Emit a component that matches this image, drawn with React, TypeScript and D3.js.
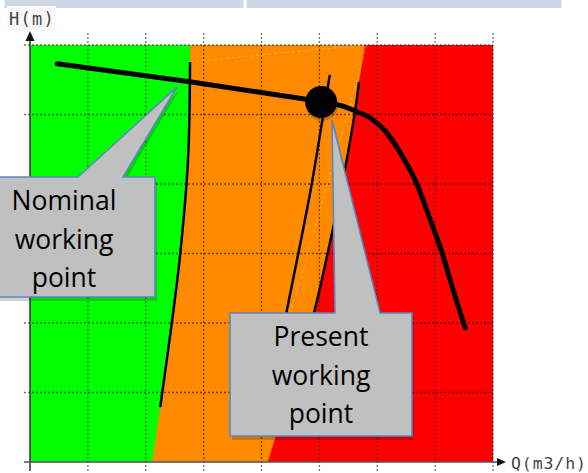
import React from "react";
import * as d3 from "d3";

// Grid: 8 flow intervals, 6 head intervals (no numeric tick labels in reference)
const Q_TICKS = [0, 1, 2, 3, 4, 5, 6, 7, 8];
const H_TICKS = [0, 1, 2, 3, 4, 5, 6];

// Pump curve (thick black)
const Q_PUMP = [0.47, 2.76, 3.97, 5.03, 5.36, 5.65, 5.88, 6.13, 6.39, 6.69, 6.91, 7.12, 7.31, 7.52];
const H_PUMP = [5.73, 5.47, 5.32, 5.18, 5.13, 5.04, 4.95, 4.77, 4.46, 3.99, 3.5, 3.01, 2.48, 1.93];

// Green / orange zone boundary
const Q_GREEN_EDGE = [2.765, 2.765, 2.73, 2.59, 2.45, 2.25, 2.11];
const H_GREEN_EDGE = [6.0, 5.755, 4.345, 2.95, 2.0, 0.79, 0.0];

// Orange / red zone boundary
const Q_RED_EDGE = [5.79, 5.685, 5.62, 5.44, 5.22, 4.92, 4.11];
const H_RED_EDGE = [6.0, 5.47, 5.07, 4.2, 3.3, 2.19, 0.0];

// System curves (thin black)
const Q_SYS1 = [2.765, 2.73, 2.59, 2.45, 2.25];
const H_SYS1 = [5.755, 4.345, 2.95, 2.0, 0.79];
const Q_SYS2 = [5.18, 5.06, 4.84, 4.44, 4.3];
const H_SYS2 = [5.57, 4.96, 3.87, 2.19, 1.6];
const Q_SYS3 = [5.685, 5.62, 5.44, 5.22, 4.92, 4.75];
const H_SYS3 = [5.47, 5.07, 4.2, 3.3, 2.19, 1.7];

// Present working point
const WORK_Q = 5.03;
const WORK_H = 5.18;

// Callouts (data coordinates): box [q0,q1,h0,h1], pointer base [qa,qb], tip [q,h]
const CALLOUT_NOMINAL = { box: [-0.6, 2.16, 2.374, 4.101], base: [0.829, 1.607], tip: [2.54, 5.396], lines: ["Nominal", "working", "point"] };
const CALLOUT_PRESENT = { box: [3.456, 6.6, 0.374, 2.144], base: [5.27, 6.048], tip: [5.218, 4.921], lines: ["Present", "working", "point"] };

const X_LABEL = "Q(m3/h)";
const Y_LABEL = "H(m)";

const W = 588;
const H = 473;

export default function App() {
  const x = d3.scaleLinear().domain([0, 8]).range([30, 493]);
  const y = d3.scaleLinear().domain([0, 6]).range([462, 45]);

  const zip = (qs: number[], hs: number[]) => qs.map((q, i) => [q, hs[i]] as [number, number]);
  const lin = d3.line<[number, number]>().x((d) => x(d[0])).y((d) => y(d[1]));
  const smooth = d3
    .line<[number, number]>()
    .x((d) => x(d[0]))
    .y((d) => y(d[1]))
    .curve(d3.curveCatmullRom.alpha(0.5));
  const mono = d3
    .line<[number, number]>()
    .x((d) => x(d[0]))
    .y((d) => y(d[1]))
    .curve(d3.curveMonotoneX);

  const greenPoly = [[0, 6] as [number, number], ...zip(Q_GREEN_EDGE, H_GREEN_EDGE), [0, 0] as [number, number]];
  const redPoly = [...zip(Q_RED_EDGE, H_RED_EDGE), [8, 0] as [number, number], [8, 6] as [number, number]];

  const calloutPath = (c: typeof CALLOUT_NOMINAL) => {
    const [q0, q1, h0, h1] = c.box;
    const pts: [number, number][] = [
      [q0, h1],
      [c.base[0], h1],
      [c.tip[0], c.tip[1]],
      [c.base[1], h1],
      [q1, h1],
      [q1, h0],
      [q0, h0],
    ];
    return lin(pts) + "Z";
  };

  const calloutText = (c: typeof CALLOUT_NOMINAL, cx: number, firstBase: number) =>
    c.lines.map((t, i) => (
      <text
        key={i}
        x={cx}
        y={firstBase + i * 38.5}
        textAnchor="middle"
        fontFamily="'Open Sans', 'Noto Sans', sans-serif"
        fontSize={26.5}
        fill="#000"
      >
        {t}
      </text>
    ));

  const gridStroke = "rgba(0,0,0,0.55)";

  return (
    <svg width={W} height={H} style={{ position: "absolute", left: 0, top: 0, background: "#fff" }}>
      {/* top header band */}
      <rect x={4.5} y={0} width={239} height={8} fill="#cfd7e7" />
      <rect x={246.5} y={0} width={315} height={8} fill="#cfd7e7" />

      {/* zones */}
      <rect x={x(0)} y={y(6)} width={x(8) - x(0)} height={y(0) - y(6)} fill="#ff8a00" />
      <path d={lin(greenPoly) + "Z"} fill="#00ff00" />
      <path d={lin(redPoly) + "Z"} fill="#ff0000" />

      {/* faint artefact edges */}
      <line x1={x(2.765)} y1={y(5.755)} x2={x(5.75)} y2={y(6)} stroke="rgba(255,255,255,0.3)" strokeDasharray="3,3" />
      <line x1={x(5.82)} y1={y(6)} x2={x(4.32)} y2={y(1.6)} stroke="rgba(255,255,255,0.3)" strokeDasharray="3,3" />

      {/* grid */}
      {Q_TICKS.map((q) => (
        <line key={"gx" + q} x1={x(q)} x2={x(q)} y1={33} y2={473} stroke={q === 0 ? "none" : gridStroke} strokeWidth={1.3} strokeDasharray="2,2" />
      ))}
      {H_TICKS.map((h) => (
        <line key={"gy" + h} x1={24} x2={x(8)} y1={y(h)} y2={y(h)} stroke={h === 0 ? "none" : gridStroke} strokeWidth={1.3} strokeDasharray="2,2" />
      ))}

      {/* axes */}
      <line x1={x(0)} x2={x(0)} y1={471} y2={38} stroke="#333" strokeWidth={1.5} />
      <path d={`M${x(0)},31 L${x(0) - 4.5},41 L${x(0) + 4.5},41 Z`} fill="#111" />
      <line x1={24} x2={500} y1={y(0)} y2={y(0)} stroke="#555" strokeWidth={1.5} />
      <path d={`M506,${y(0)} L497,${y(0) - 4} L497,${y(0) + 4} Z`} fill="#111" />

      {/* axis labels */}
      <rect x={7} y={6} width={49} height={25} fill="#f8f8f8" />
      <text x={9} y={25} fontFamily="'DejaVu Sans Mono', monospace" fontSize={17} letterSpacing={1.3} fill="#444">
        {Y_LABEL}
      </text>
      <text x={511} y={469} fontFamily="'DejaVu Sans Mono', monospace" fontSize={16.5} letterSpacing={0.9} fill="#444">
        {X_LABEL}
      </text>

      {/* system curves */}
      <path d={smooth(zip(Q_SYS1, H_SYS1)) || ""} fill="none" stroke="#000" strokeWidth={2.5} />
      <path d={smooth(zip(Q_SYS2, H_SYS2)) || ""} fill="none" stroke="#000" strokeWidth={2.5} />
      <path d={smooth(zip(Q_SYS3, H_SYS3)) || ""} fill="none" stroke="#000" strokeWidth={2.5} />

      {/* pump curve */}
      <path d={mono(zip(Q_PUMP, H_PUMP)) || ""} fill="none" stroke="#000" strokeWidth={5} strokeLinecap="round" strokeLinejoin="round" />

      {/* working point */}
      <circle cx={x(WORK_Q) + 1} cy={y(WORK_H) + 3} r={16} fill="rgba(0,0,0,0.2)" />
      <circle cx={x(WORK_Q)} cy={y(WORK_H)} r={16} fill="#000" />

      {/* callouts */}
      {[CALLOUT_NOMINAL, CALLOUT_PRESENT].map((c, i) => (
        <g key={i}>
          <path d={calloutPath(c)} transform="translate(2,4)" fill="rgba(0,0,0,0.18)" />
          <path d={calloutPath(c)} fill="#c0c0c0" stroke="#5a87c6" strokeWidth={1.6} strokeLinejoin="miter" />
        </g>
      ))}
      {calloutText(CALLOUT_NOMINAL, 64, 210)}
      {calloutText(CALLOUT_PRESENT, 321, 346)}
    </svg>
  );
}
